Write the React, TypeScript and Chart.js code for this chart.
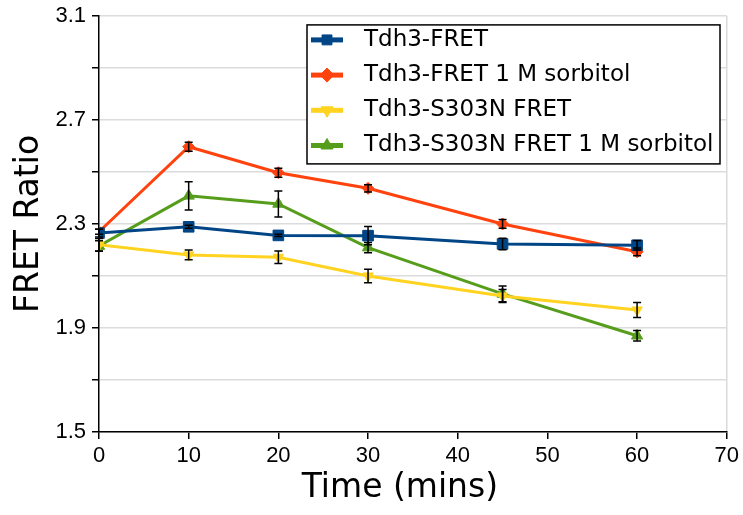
import React, { useEffect, useRef } from "react";
import { Chart, registerables } from "chart.js";

Chart.register(...registerables);

// ---- data ----
const times = [0, 10, 20, 30, 45, 60];

const seriesNames = [
  "Tdh3-FRET",
  "Tdh3-FRET 1 M sorbitol",
  "Tdh3-S303N FRET",
  "Tdh3-S303N FRET 1 M sorbitol",
];

const tdh3 = [2.265, 2.289, 2.256, 2.255, 2.223, 2.218];
const tdh3Err = [0.015, 0.006, 0.004, 0.035, 0.022, 0.018];

const tdh3Sorb = [2.27, 2.597, 2.497, 2.437, 2.3, 2.193];
const tdh3SorbErr = [0.01, 0.017, 0.017, 0.014, 0.017, 0.015];

const s303n = [2.22, 2.181, 2.172, 2.1, 2.023, 1.969];
const s303nErr = [0.024, 0.019, 0.024, 0.026, 0.025, 0.029];

const s303nSorb = [2.215, 2.408, 2.377, 2.209, 2.031, 1.87];
const s303nSorbErr = [0.02, 0.054, 0.05, 0.02, 0.03, 0.02];

const yLabelTicks = [1.5, 1.9, 2.3, 2.7, 3.1];
const xTicks = [0, 10, 20, 30, 40, 50, 60, 70];
const xTitle = "Time (mins)";
const yTitle = "FRET Ratio";

// ---- styles ----
const colors = ["#004586", "#ff420e", "#ffd320", "#579d1c"];
const pointStyles = ["rect", "rectRot", "triangle", "triangle"];
const pointRotations = [0, 0, 180, 0];
const pointRadii = [7.5, 6, 6, 6.5];

const allValues = [tdh3, tdh3Sorb, s303n, s303nSorb];
const allErrors = [tdh3Err, tdh3SorbErr, s303nErr, s303nSorbErr];

const errorBarPlugin = {
  id: "errorBars",
  afterDatasetsDraw(chart: any) {
    const ctx = chart.ctx;
    const xs = chart.scales.x;
    const ys = chart.scales.y;
    ctx.save();
    ctx.strokeStyle = "#000";
    ctx.lineWidth = 1.5;
    allValues.forEach((vals, i) => {
      const errs = allErrors[i];
      vals.forEach((v, j) => {
        const px = xs.getPixelForValue(times[j]);
        const yt = ys.getPixelForValue(v + errs[j]);
        const yb = ys.getPixelForValue(v - errs[j]);
        const cap = 4;
        ctx.beginPath();
        ctx.moveTo(px, yt);
        ctx.lineTo(px, yb);
        ctx.moveTo(px - cap, yt);
        ctx.lineTo(px + cap, yt);
        ctx.moveTo(px - cap, yb);
        ctx.lineTo(px + cap, yb);
        ctx.stroke();
      });
    });
    ctx.restore();
  },
};

function drawMarker(ctx: CanvasRenderingContext2D, style: string, x: number, y: number, r: number, rot: number) {
  ctx.save();
  ctx.translate(x, y);
  ctx.rotate((rot * Math.PI) / 180);
  ctx.beginPath();
  if (style === "rect") {
    const s = r * Math.SQRT1_2;
    ctx.rect(-s, -s, 2 * s, 2 * s);
  } else if (style === "rectRot") {
    ctx.moveTo(-r, 0);
    ctx.lineTo(0, -r);
    ctx.lineTo(r, 0);
    ctx.lineTo(0, r);
    ctx.closePath();
  } else {
    const side = (r * 3) / Math.sqrt(3);
    const h = (side * Math.sqrt(3)) / 2;
    ctx.moveTo(-side / 2, h / 3);
    ctx.lineTo(side / 2, h / 3);
    ctx.lineTo(0, -(2 * h) / 3);
    ctx.closePath();
  }
  ctx.fill();
  ctx.stroke();
  ctx.restore();
}

const boxLegendPlugin = {
  id: "boxLegend",
  afterDraw(chart: any) {
    const ctx = chart.ctx;
    const ca = chart.chartArea;
    const boxL = ca.left + 208;
    const boxT = ca.top + 9;
    const boxW = 413;
    const boxH = 139;
    ctx.save();
    ctx.fillStyle = "#fff";
    ctx.fillRect(boxL, boxT, boxW, boxH);
    ctx.strokeStyle = "#000";
    ctx.lineWidth = 1.5;
    ctx.strokeRect(boxL, boxT, boxW, boxH);
    seriesNames.forEach((name, i) => {
      const cy = boxT + 15 + i * 35.2;
      ctx.strokeStyle = colors[i];
      ctx.lineWidth = 5;
      ctx.beginPath();
      ctx.moveTo(boxL + 4, cy);
      ctx.lineTo(boxL + 36, cy);
      ctx.stroke();
      ctx.fillStyle = colors[i];
      ctx.strokeStyle = colors[i];
      ctx.lineWidth = 1;
      drawMarker(ctx, pointStyles[i], boxL + 20, cy, 7, pointRotations[i]);
      ctx.fillStyle = "#000";
      ctx.font = "23px 'DejaVu Sans'";
      ctx.textBaseline = "middle";
      ctx.textAlign = "left";
      ctx.fillText(name, boxL + 57, cy);
    });
    // x axis title
    ctx.fillStyle = "#000";
    ctx.font = "33px 'DejaVu Sans'";
    ctx.textAlign = "center";
    ctx.textBaseline = "alphabetic";
    ctx.fillText(xTitle, (ca.left + ca.right) / 2 - 13, chart.height - 18);
    ctx.restore();
  },
};

export default function App() {
  const canvasRef = useRef<HTMLCanvasElement | null>(null);

  useEffect(() => {
    document.body.style.margin = "0";
    const canvas = canvasRef.current;
    if (!canvas) return;

    const datasets = seriesNames.map((name, i) => ({
      label: name,
      data: times.map((t, j) => ({ x: t, y: allValues[i][j] })),
      borderColor: colors[i],
      backgroundColor: colors[i],
      borderWidth: 3,
      pointStyle: pointStyles[i],
      rotation: pointRotations[i],
      pointRadius: pointRadii[i],
      pointBorderWidth: 1,
      pointBackgroundColor: colors[i],
      pointBorderColor: colors[i],
      tension: 0,
      fill: false,
    }));

    const chart = new Chart(canvas, {
      type: "line",
      data: { datasets },
      options: {
        animation: false,
        responsive: true,
        maintainAspectRatio: false,
        layout: { padding: { top: 8, right: 13, left: 0, bottom: 0 } },
        plugins: {
          legend: { display: false },
          tooltip: { enabled: false },
        },
        scales: {
          x: {
            type: "linear",
            min: 0,
            max: 70,
            afterFit(scale: any) {
              scale.height = 83;
            },
            afterBuildTicks(scale: any) {
              scale.ticks = xTicks.map((v) => ({ value: v }));
            },
            ticks: {
              color: "#000",
              font: { family: "'Liberation Sans', Arial", size: 22 },
              padding: 4,
              maxRotation: 0,
              callback: (v: any) => String(v),
            },
            grid: {
              color: (c: any) => (c.tick && c.tick.value === 70 ? "#d9d9d9" : "rgba(0,0,0,0)"),
              lineWidth: 1.5,
              tickColor: "#000",
              tickLength: 7,
              drawTicks: true,
            },
            border: { display: true, color: "#000", width: 1.5 },
            title: { display: false },
          },
          y: {
            type: "linear",
            min: 1.5,
            max: 3.1,
            afterFit(scale: any) {
              scale.width = 99;
            },
            afterBuildTicks(scale: any) {
              const arr: any[] = [];
              for (let k = 0; k <= 8; k++) {
                arr.push({ value: Math.round((1.5 + 0.2 * k) * 10) / 10 });
              }
              scale.ticks = arr;
            },
            ticks: {
              color: "#000",
              font: { family: "'Liberation Sans', Arial", size: 22, lineHeight: 0.9 },
              padding: 6,
              callback: (v: any) => {
                const val = Math.round(Number(v) * 10) / 10;
                return yLabelTicks.some((t) => Math.abs(t - val) < 1e-6) ? val.toFixed(1) : "";
              },
            },
            grid: {
              color: "#dcdcdc",
              lineWidth: 1.5,
              tickColor: "#000",
              tickLength: 7,
              drawTicks: true,
            },
            border: { display: true, color: "#000", width: 1.5 },
            title: {
              display: true,
              text: yTitle,
              color: "#000",
              font: { family: "'DejaVu Sans'", size: 33 },
              padding: { top: 10, bottom: 0 },
            },
          },
        },
      },
      plugins: [errorBarPlugin, boxLegendPlugin],
    } as any);

    return () => {
      chart.destroy();
    };
  }, []);

  return (
    <div style={{ position: "relative", width: 743, height: 515 }}>
      <canvas ref={canvasRef} />
    </div>
  );
}
